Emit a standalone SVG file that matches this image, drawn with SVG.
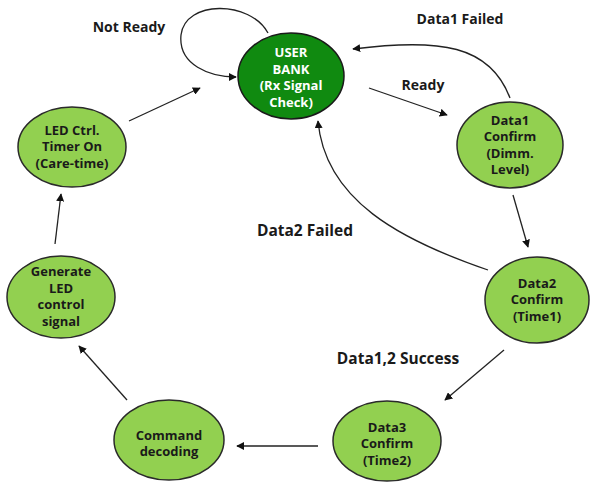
<svg xmlns="http://www.w3.org/2000/svg" width="590" height="484" viewBox="0 0 590 484">
<defs>
<marker id="ah" viewBox="0 0 10 10" refX="9" refY="5" markerWidth="8" markerHeight="8" markerUnits="userSpaceOnUse" orient="auto">
<path d="M0,0 L10,5 L0,10 z" fill="#111"/>
</marker>
<style>
.n{fill:#92d050;stroke:#2a2a2a;stroke-width:1.5}
.u{fill:#108a10;stroke:#1a1a1a;stroke-width:1.5}
.t{font-family:"Open Sans",sans-serif;font-weight:bold;font-size:13px;fill:#1a1a1a;text-anchor:middle}
.tw{fill:#ffffff}
.e{fill:none;stroke:#222;stroke-width:1.3;marker-end:url(#ah)}
.l{font-family:"Open Sans",sans-serif;font-weight:bold;font-size:14px;fill:#1a1a1a;text-anchor:middle}
.lb{font-size:15.5px}
</style>
</defs>
<rect width="590" height="484" fill="#ffffff"/>
<g id="connectors">
<path class="e" d="M268,33 C250,0 185,0 181,35 C178,65 210,77 236,77"/>
<path class="e" d="M510,98 C490,45 440,38 353,49"/>
<path class="e" d="M369,88 L447,115"/>
<path class="e" d="M513,195 L528,247"/>
<path class="e" d="M488,270 C400,240 325,200 318,121"/>
<path class="e" d="M504,350 L445,400"/>
<path class="e" d="M318,446 L237,446"/>
<path class="e" d="M127,400 L79,346"/>
<path class="e" d="M55,244 L61,194"/>
<path class="e" d="M129,121 L200,88"/>
</g>
<g id="labels">
<text class="l" x="129" y="32">Not Ready</text>
<text class="l" x="460" y="24">Data1 Failed</text>
<text class="l" x="423" y="90">Ready</text>
<text class="l lb" x="305" y="236">Data2 Failed</text>
<text class="l lb" x="398" y="364">Data1,2 Success</text>
</g>
<g id="user-bank">
<ellipse class="u" cx="291" cy="76" rx="53" ry="43"/>
<text class="t tw" x="291" y="57">USER</text>
<text class="t tw" x="291" y="73.5">BANK</text>
<text class="t tw" x="291" y="90">(Rx Signal</text>
<text class="t tw" x="291" y="106.5">Check)</text>
</g>
<g id="data1-confirm">
<ellipse class="n" cx="510" cy="145" rx="53" ry="43"/>
<text class="t" x="510" y="124.5">Data1</text>
<text class="t" x="510" y="141">Confirm</text>
<text class="t" x="510" y="157.5">(Dimm.</text>
<text class="t" x="510" y="174">Level)</text>
</g>
<g id="data2-confirm">
<ellipse class="n" cx="537" cy="300" rx="52" ry="43"/>
<text class="t" x="537" y="287.5">Data2</text>
<text class="t" x="537" y="304">Confirm</text>
<text class="t" x="537" y="320.5">(Time1)</text>
</g>
<g id="data3-confirm">
<ellipse class="n" cx="387" cy="441" rx="54" ry="40"/>
<text class="t" x="387" y="431.5">Data3</text>
<text class="t" x="387" y="448">Confirm</text>
<text class="t" x="387" y="464.5">(Time2)</text>
</g>
<g id="command-decoding">
<ellipse class="n" cx="169" cy="440" rx="55" ry="40"/>
<text class="t" x="169" y="439.5">Command</text>
<text class="t" x="169" y="456">decoding</text>
</g>
<g id="generate-led">
<ellipse class="n" cx="61" cy="297" rx="54" ry="41"/>
<text class="t" x="61" y="276">Generate</text>
<text class="t" x="61" y="292.5">LED</text>
<text class="t" x="61" y="309">control</text>
<text class="t" x="61" y="325.5">signal</text>
</g>
<g id="led-ctrl">
<ellipse class="n" cx="72" cy="147" rx="54" ry="40"/>
<text class="t" x="72" y="134.5">LED Ctrl.</text>
<text class="t" x="72" y="151">Timer On</text>
<text class="t" x="72" y="167.5">(Care-time)</text>
</g>
</svg>
